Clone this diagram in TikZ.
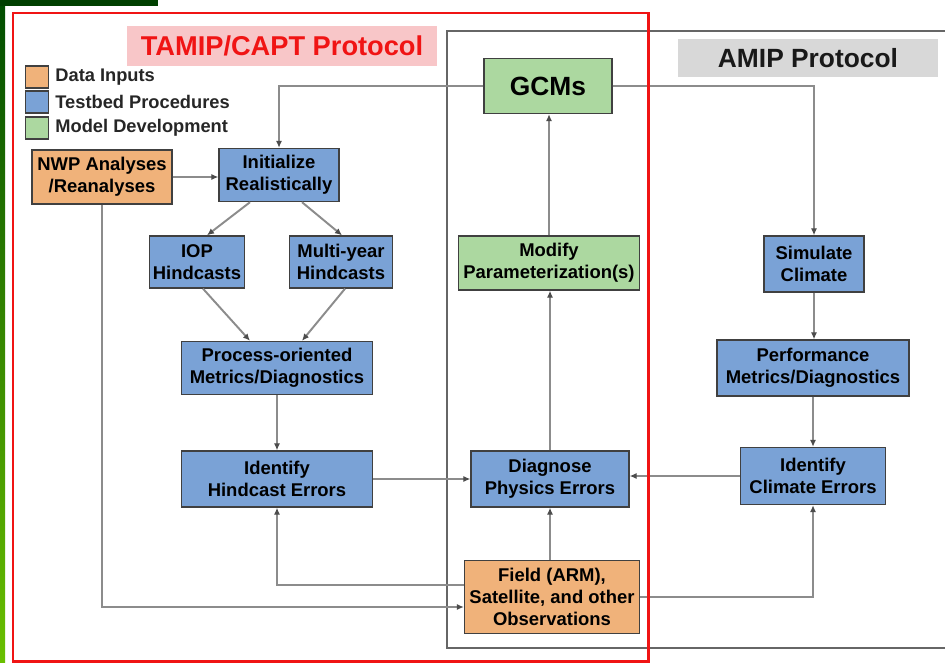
\documentclass[tikz,border=0pt]{standalone}
\usepackage{fontspec}
\setmainfont{Liberation Sans}
\usetikzlibrary{positioning,arrows.meta,calc}
\definecolor{dataorange}{RGB}{240,178,122}
\definecolor{testblue}{RGB}{122,162,214}
\definecolor{devgreen}{RGB}{172,216,160}
\definecolor{pinkbg}{RGB}{248,198,200}
\definecolor{amipgray}{RGB}{216,216,216}
\definecolor{protored}{RGB}{240,20,20}

\begin{document}
\begin{tikzpicture}[
          x=0.02cm, y=-0.02cm,
          every node/.style={font=\fontsize{10.5}{12.4}\selectfont\bfseries},
          box/.style={draw=black!75,line width=0.8pt,align=center,inner sep=1pt},
          datbox/.style={box,fill=dataorange},
          tstbox/.style={box,fill=testblue},
          devbox/.style={box,fill=devgreen},
          legtext/.style={font=\fontsize{10.4}{12}\selectfont\bfseries,text=black!85,label distance=0pt},
          flow/.style={draw=black!45,line width=1.1pt,-{Latex[length=4pt,width=3.6pt,color=black!70]}},
        ]
        \useasboundingbox (0,0) rectangle (945,662);
        \fill[white] (0,0) rectangle (945,662);
        % slide background
        \shade[top color=green!30!black,bottom color=green!45!yellow!75!black] (0,0) rectangle (5,662);
        \fill[green!25!black] (0,0) rectangle (158,6);
        % protocol frames and titles
        \draw[black!60,line width=1.6pt] (447,31) rectangle (965,648);
        \node[fill=pinkbg,minimum width=6.2cm,minimum height=0.82cm,text=protored,
              font=\fontsize{15.5}{18}\selectfont\bfseries] (tamip) at (282,46) {TAMIP/CAPT Protocol};
        \node[fill=amipgray,minimum width=5.22cm,minimum height=0.76cm,text=black!90,
              font=\fontsize{15}{18}\selectfont\bfseries] (amip) at (808,58) {AMIP Protocol};
        % legend
        \node[datbox,minimum width=0.46cm,minimum height=0.44cm,label={[legtext]right:Data Inputs}] (legdat) at (37,77) {};
        \node[tstbox,minimum width=0.46cm,minimum height=0.44cm,label={[legtext]right:Testbed Procedures}] (legtst) at (37,102) {};
        \node[devbox,minimum width=0.46cm,minimum height=0.44cm,label={[legtext]right:Model Development}] (legdev) at (37,128) {};
        % TAMIP/CAPT side
        \node[datbox,minimum width=2.8cm,minimum height=1.08cm] (nwp) at (102,177) {NWP Analyses\\/Reanalyses};
        \node[tstbox,minimum width=2.4cm,minimum height=1.06cm] (init) at (279,175) {Initialize\\Realistically};
        \node[tstbox,minimum width=1.9cm,minimum height=1.04cm] (iop) at (197,262) {IOP\\Hindcasts};
        \node[tstbox,minimum width=2.06cm,minimum height=1.04cm] (multi) at (341,262) {Multi-year\\Hindcasts};
        \node[tstbox,minimum width=3.82cm,minimum height=1.06cm] (proc) at (277,368) {Process-oriented\\Metrics/Diagnostics};
        \node[tstbox,minimum width=3.82cm,minimum height=1.12cm] (idh) at (277,479) {Identify\\Hindcast Errors};
        % shared column
        \node[devbox,minimum width=2.56cm,minimum height=1.1cm,font=\fontsize{15}{18}\selectfont\bfseries] (gcm) at (548,86) {GCMs};
        \node[devbox,minimum width=3.62cm,minimum height=1.08cm] (mod) at (549,263) {Modify\\Parameterization(s)};
        \node[tstbox,minimum width=3.16cm,minimum height=1.12cm] (diag) at (550,479) {Diagnose\\Physics Errors};
        \node[datbox,minimum width=3.5cm,minimum height=1.46cm] (field) at (552,597) {Field (ARM),\\Satellite, and other\\Observations};
        % AMIP side
        \node[tstbox,minimum width=2.0cm,minimum height=1.12cm] (sim) at (814,264) {Simulate\\Climate};
        \node[tstbox,minimum width=3.84cm,minimum height=1.12cm] (perf) at (813,368) {Performance\\Metrics/Diagnostics};
        \node[tstbox,minimum width=2.9cm,minimum height=1.14cm] (idc) at (813,476) {Identify\\Climate Errors};
        % connectors
        \draw[flow] (gcm.west) -| (init.north);
        \draw[flow] (gcm.east) -| (sim.north);
        \draw[flow] (nwp.east) -- (nwp.east -| init.west);
        \draw[flow] ($(init.south)+(-29,0)$) -- ($(iop.north)+(10,0)$);
        \draw[flow] ($(init.south)+(23,0)$) -- ($(multi.north)+(1,0)$);
        \draw[flow] ($(iop.south)+(6,0)$) -- ($(proc.north)+(-27,0)$);
        \draw[flow] ($(multi.south)+(4,0)$) -- ($(proc.north)+(25,0)$);
        \draw[flow] (proc) -- (idh);
        \draw[flow] (idh.east) -- (idh.east -| diag.west);
        \draw[flow] (idc.west) -- (idc.west -| diag.east);
        \draw[flow] (diag.south |- field.north) -- (diag.south);
        \draw[flow] (diag.north) -- (diag.north |- mod.south);
        \draw[flow] (mod.north) -- (mod.north |- gcm.south);
        \draw[flow] ($(field.west)+(0,-12)$) -| (idh.south);
        \draw[flow] (nwp.south) |- ($(field.west)+(0,10)$);
        \draw[flow] (field.east) -| (idc.south);
        \draw[flow] (sim.south) -- (sim.south |- perf.north);
        \draw[flow] (perf.south) -- (perf.south |- idc.north);
        % red frame over the lines
        \draw[protored,line width=1.7pt] (13,13) rectangle (648,661);
      \end{tikzpicture}
\end{document}
